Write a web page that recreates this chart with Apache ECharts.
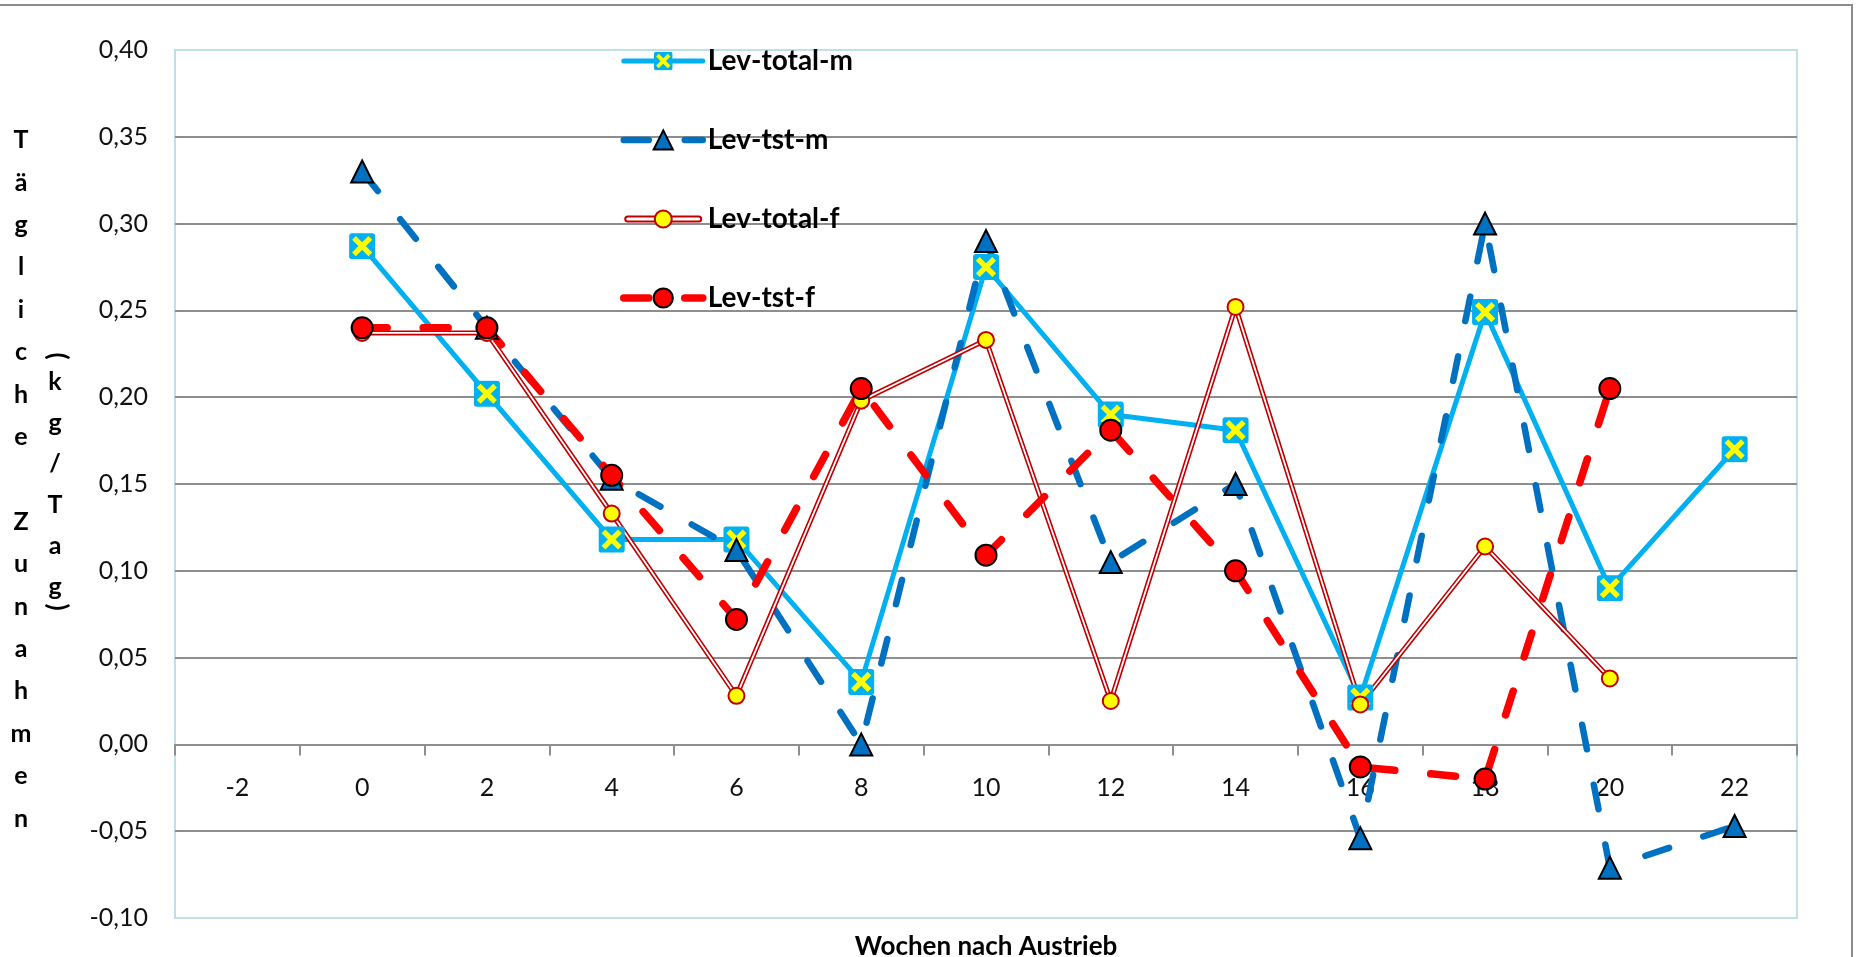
<!DOCTYPE html>
<html><head><meta charset="utf-8">
<script src="https://cdn.jsdelivr.net/npm/echarts@6/dist/echarts.min.js"></script>
<style>html,body{margin:0;padding:0;background:#fff}#c{width:1860px;height:957px}</style>
</head><body><div id="c"></div>
<script>
// ---- data ----
const xCats = ['-2','0','2','4','6','8','10','12','14','16','18','20','22'];
const totalM = [null, 0.287, 0.202, 0.118, 0.118, 0.036, 0.275, 0.190, 0.181, 0.027, 0.249, 0.090, 0.170];
const tstM   = [null, 0.330, 0.240, 0.153, 0.112, 0.000, 0.290, 0.105, 0.150, -0.054, 0.300, -0.071, -0.047];
const totalF = [null, 0.237, 0.237, 0.133, 0.028, 0.198, 0.233, 0.025, 0.252, 0.023, 0.114, 0.038, null];
const tstF   = [null, 0.240, 0.240, 0.155, 0.072, 0.205, 0.109, 0.181, 0.100, -0.013, -0.020, 0.205, null];
const seriesNames = ['Lev-total-m','Lev-tst-m','Lev-total-f','Lev-tst-f'];
const xTitle = 'Wochen nach Austrieb';
const yTitle1 = 'Tägliche Zunahmen';
const yTitle2 = 'kg/Tag';
const yMin = -0.1, yMax = 0.4, yStep = 0.05;

// ---- styles ----
const FONT = 'Lato';
const GRID_GRAY = '#8e8e8e';
const BORDER_BLUE = '#bfe0e6';
const GRID_TOP = 50, GRID_BOTTOM = 39, CHART_H = 957;
const svgX = "<svg xmlns='http://www.w3.org/2000/svg' width='28' height='28' viewBox='0 0 28 28'><rect x='0.5' y='0.5' width='27' height='27' rx='3' fill='#00b0f0'/><path d='M5.5 5.5L22.5 22.5M22.5 5.5L5.5 22.5' stroke='#ffff00' stroke-width='5.5'/></svg>";
const symX = 'image://data:image/svg+xml;charset=utf-8,' + encodeURIComponent(svgX);
const svgDouble = "<svg xmlns='http://www.w3.org/2000/svg' width='79' height='24' viewBox='0 0 79 24'><line x1='4' y1='12' x2='75' y2='12' stroke='#c00000' stroke-width='7' stroke-linecap='round'/><line x1='4' y1='12' x2='75' y2='12' stroke='#ffffff' stroke-width='3' stroke-linecap='round'/><circle cx='39.5' cy='12' r='8.5' fill='#ffff00' stroke='#c00000' stroke-width='2'/></svg>";
const iconDouble = 'image://data:image/svg+xml;charset=utf-8,' + encodeURIComponent(svgDouble);

const splitColors = [BORDER_BLUE].concat(Array(9).fill(GRID_GRAY)).concat([BORDER_BLUE]);
// move x axis up so it crosses at y = 0
const plotH = CHART_H - GRID_TOP - GRID_BOTTOM;
const zeroOffset = -plotH * (0 - yMin) / (yMax - yMin);

const chart = echarts.init(document.getElementById('c'), null, {renderer: 'canvas'});
chart.setOption({
  animation: false,
  backgroundColor: '#ffffff',
  textStyle: {fontFamily: FONT},
  grid: {left: 175, right: 63, top: GRID_TOP, bottom: GRID_BOTTOM, show: true, borderColor: BORDER_BLUE, borderWidth: 2, outerBoundsMode: 'none', containLabel: false},
  legend: {
    orient: 'vertical', left: 615, top: 42,
    itemWidth: 79, itemHeight: 24, itemGap: 51,
    textStyle: {fontFamily: FONT, fontSize: 28, fontWeight: 'bold', color: '#000'},
    lineStyle: {width: 'inherit'},
    selectedMode: false,
    data: [
      {name: seriesNames[0]},
      {name: seriesNames[1]},
      {name: seriesNames[2], icon: iconDouble},
      {name: seriesNames[3]}
    ]
  },
  xAxis: {
    type: 'category', data: xCats, boundaryGap: true,
    offset: zeroOffset,
    axisLine: {onZero: false, lineStyle: {color: GRID_GRAY, width: 2}},
    axisTick: {show: true, length: 11, lineStyle: {color: GRID_GRAY, width: 2}},
    axisLabel: {interval: 0, fontFamily: FONT, fontSize: 25, color: '#111', margin: 31},
    splitLine: {show: false},
    name: xTitle, nameLocation: 'middle', nameGap: 189,
    nameTextStyle: {fontFamily: FONT, fontSize: 26, fontWeight: 'bold', color: '#000'}
  },
  yAxis: {
    type: 'value', min: yMin, max: yMax, interval: yStep,
    axisLine: {show: false}, axisTick: {show: false},
    axisLabel: {fontFamily: FONT, fontSize: 25, color: '#111', margin: 27,
      formatter: v => v.toFixed(2).replace('.', ',')},
    splitLine: {show: true, lineStyle: {color: splitColors, width: 2}}
  },
  graphic: [
    {type: 'rect', shape: {x: -10, y: 5, width: 1862, height: 1000}, style: {fill: 'none', stroke: '#8c8c8c', lineWidth: 2}, silent: true, z: -1},
    {type: 'text', x: 21, y: 119, style: {text: yTitle1.split('').map(c => c === ' ' ? '' : c).join('\n'), align: 'center', verticalAlign: 'top', lineHeight: 42.4, fontFamily: FONT, fontSize: 25, fontWeight: 'bold', fill: '#000'}},
    {type: 'text', x: 55, y: 361.5, style: {text: yTitle2.split('').join('\n'), align: 'center', verticalAlign: 'top', lineHeight: 41, fontFamily: FONT, fontSize: 25, fontWeight: 'bold', fill: '#000'}},
    {type: 'text', x: 57, y: 356, rotation: -Math.PI / 2, style: {text: '(', align: 'center', verticalAlign: 'middle', fontFamily: FONT, fontSize: 26, fontWeight: 'bold', fill: '#000'}},
    {type: 'text', x: 57, y: 607, rotation: -Math.PI / 2, style: {text: ')', align: 'center', verticalAlign: 'middle', fontFamily: FONT, fontSize: 26, fontWeight: 'bold', fill: '#000'}}
  ],
  series: [
    {
      name: seriesNames[0], type: 'line', data: totalM,
      symbol: symX, symbolSize: 27, showAllSymbol: true,
      lineStyle: {color: '#00b0f0', width: 5, cap: 'round', join: 'round'},
      itemStyle: {color: '#00b0f0'}
    },
    {
      name: seriesNames[1], type: 'line', data: tstM,
      symbol: 'triangle', symbolSize: [22, 22], showAllSymbol: true,
      lineStyle: {color: '#0070c0', width: 6.5, type: [25, 36], cap: 'round', join: 'round'},
      itemStyle: {color: '#0070c0', borderColor: '#000', borderWidth: 2}
    },
    {
      name: seriesNames[2], type: 'line', data: totalF,
      symbol: 'none',
      lineStyle: {color: '#c00000', width: 5, join: 'miter'},
      itemStyle: {color: '#c00000'}
    },
    {
      name: seriesNames[2] + ' inner', type: 'line', data: totalF,
      symbol: 'none', silent: true,
      lineStyle: {color: '#ffffff', width: 1.8, join: 'miter'}
    },
    {
      name: seriesNames[2] + ' marker', type: 'line', data: totalF,
      symbol: 'circle', symbolSize: 16, showAllSymbol: true,
      lineStyle: {width: 0, opacity: 0},
      itemStyle: {color: '#ffff00', borderColor: '#c00000', borderWidth: 2}
    },
    {
      name: seriesNames[3], type: 'line', data: tstF,
      symbol: 'circle', symbolSize: 21, showAllSymbol: true,
      lineStyle: {color: '#ff0000', width: 7.5, type: [25, 36], cap: 'round', join: 'round'},
      itemStyle: {color: '#ff0000', borderColor: '#000', borderWidth: 2}
    }
  ]
});
</script></body></html>
